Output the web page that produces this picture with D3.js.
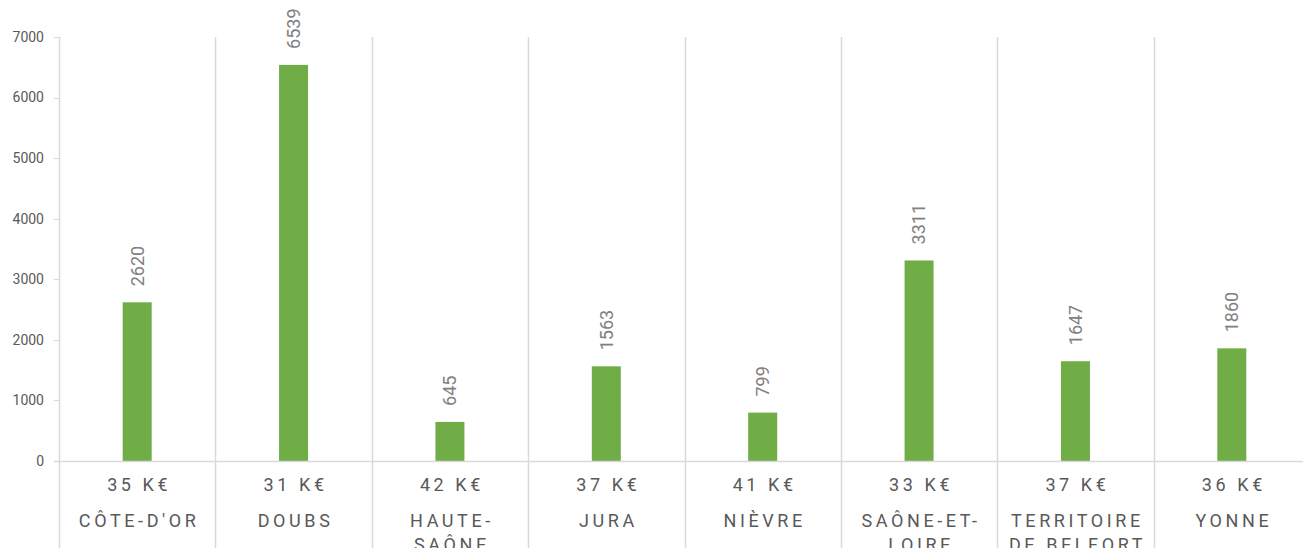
<!DOCTYPE html>
<html><head><meta charset="utf-8">
<script src="https://cdn.jsdelivr.net/npm/d3@7"></script>
<style>
html,body{margin:0;padding:0;background:#fff;overflow:hidden;}
text{font-family:Roboto, "Liberation Sans", sans-serif;}
</style></head>
<body><svg id="c" width="1303" height="548"></svg>
<script>
const categories = [["CÔTE-D'OR"],["DOUBS"],["HAUTE-","SAÔNE"],["JURA"],["NIÈVRE"],["SAÔNE-ET-","LOIRE"],["TERRITOIRE","DE BELFORT"],["YONNE"]];
const values = [2620, 6539, 645, 1563, 799, 3311, 1647, 1860];
const salaries = ["35 K€","31 K€","42 K€","37 K€","41 K€","33 K€","37 K€","36 K€"];
const yTicks = [0,1000,2000,3000,4000,5000,6000,7000];

(function(){
const svg = d3.select("#c");
const pL = 59, pR = 1310, pT = 37, pB = 461;
const ids = d3.range(values.length);
const x = d3.scaleBand().domain(ids).range([pL, pR]).paddingInner(0).paddingOuter(0);
const y = d3.scaleLinear().domain([0, 7000]).range([pB, pT]);
const grid = "#d9d9d9";

const bounds = ids.map(i => x(i)).concat([pR]);
svg.selectAll("line.sep").data(bounds).enter().append("line")
  .attr("x1", d => Math.round(d)+0.5).attr("x2", d => Math.round(d)+0.5)
  .attr("y1", pT).attr("y2", 548)
  .attr("stroke", grid).attr("stroke-width", 1.5);

const ya = svg.append("g");
ya.selectAll("line").data(yTicks).enter().append("line")
  .attr("x1", pL-5).attr("x2", pL).attr("y1", d => Math.round(y(d))+0.5).attr("y2", d => Math.round(y(d))+0.5)
  .attr("stroke", grid).attr("stroke-width", 1);
ya.selectAll("text").data(yTicks).enter().append("text")
  .attr("x", 44).attr("y", d => y(d)).attr("dy", "0.35em")
  .attr("text-anchor", "end").attr("font-size", 14).attr("fill", "#595959")
  .attr("font-family", "'Liberation Sans', Arial, sans-serif")
  .text(d => d);

const bw = 29;
svg.selectAll("rect.bar").data(values).enter().append("rect")
  .attr("x", (d,i) => x(i) + x.bandwidth()/2 - bw/2)
  .attr("y", d => y(d)).attr("width", bw).attr("height", d => pB - y(d))
  .attr("fill", "#70ad47");

svg.append("line").attr("x1", pL-5).attr("x2", pR).attr("y1", pB+0.5).attr("y2", pB+0.5)
  .attr("stroke", grid).attr("stroke-width", 1.5);

svg.selectAll("text.val").data(values).enter().append("text")
  .attr("transform", (d,i) => `translate(${x(i)+x.bandwidth()/2},${y(d)-16}) rotate(-90)`)
  .attr("dy", "0.35em").attr("text-anchor", "start")
  .attr("font-size", 18).attr("fill", "#808080")
  .text(d => d);

svg.selectAll("text.sal").data(salaries).enter().append("text")
  .attr("x", (d,i) => x(i)+x.bandwidth()/2 + 2).attr("y", 485).attr("dy", "0.35em")
  .attr("text-anchor", "middle").attr("font-size", 18).attr("fill", "#595959")
  .attr("letter-spacing", "3.6px")
  .text(d => d);

categories.forEach((lines, i) => {
  lines.forEach((ln, j) => {
    svg.append("text")
      .attr("x", x(i)+x.bandwidth()/2 + 2).attr("y", 521 + j*24).attr("dy", "0.35em")
      .attr("text-anchor", "middle").attr("font-size", 18).attr("fill", "#595959")
      .attr("letter-spacing", "3.6px")
      .text(ln);
  });
});
})();
</script></body></html>
